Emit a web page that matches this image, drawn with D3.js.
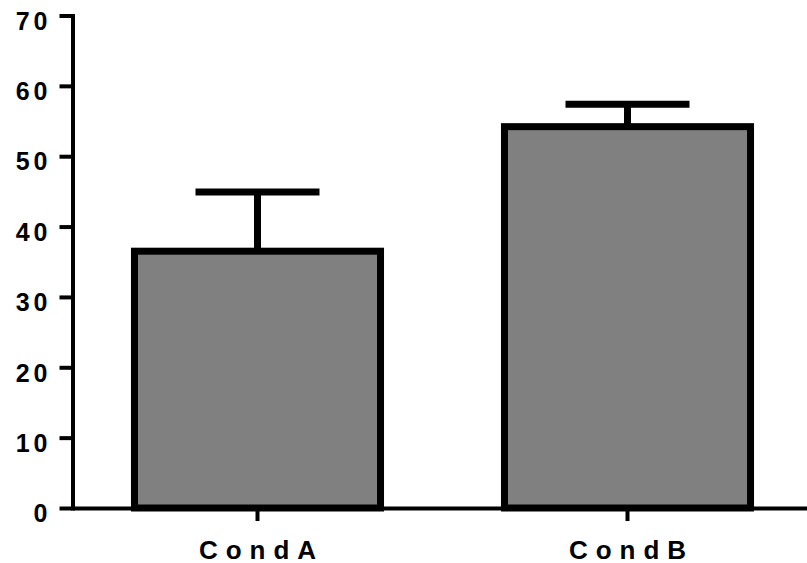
<!DOCTYPE html>
<html>
<head>
<meta charset="utf-8">
<script src="https://cdn.jsdelivr.net/npm/d3@7"></script>
<style>
  html, body { margin: 0; padding: 0; background: #fff; }
  svg { display: block; }
</style>
</head>
<body>
<svg id="chart" width="807" height="563"></svg>
<script>
// Group names, means and upper error (SD) values
const categories = ["CondA", "CondB"];
const means = [36.5, 54.2];
const errors = [8.4, 3.2];
const yTicks = [0, 10, 20, 30, 40, 50, 60, 70];

const svg = d3.select("#chart");

const y = d3.scaleLinear().domain([0, 70]).range([508, 15.5]);
const x = d3.scaleBand()
  .domain(categories)
  .range([72.5, 812.5])
  .paddingInner(0.335)
  .paddingOuter(0.1675);

const font = "'Liberation Sans', Arial, Helvetica, sans-serif";

// Bars
svg.append("g").selectAll("rect")
  .data(categories)
  .join("rect")
  .attr("x", d => x(d))
  .attr("width", x.bandwidth())
  .attr("y", (d, i) => y(means[i]))
  .attr("height", (d, i) => y(0) - y(means[i]))
  .attr("fill", "#808080")
  .attr("stroke", "#000")
  .attr("stroke-width", 7);

// Error bars (upper only)
const eb = svg.append("g").attr("stroke", "#000").attr("stroke-width", 7);
categories.forEach((c, i) => {
  const cx = x(c) + x.bandwidth() / 2;
  eb.append("line")
    .attr("x1", cx).attr("x2", cx)
    .attr("y1", y(means[i])).attr("y2", y(means[i] + errors[i]));
  eb.append("line")
    .attr("x1", cx - 62).attr("x2", cx + 62)
    .attr("y1", y(means[i] + errors[i])).attr("y2", y(means[i] + errors[i]));
});

// X axis
const xAxis = svg.append("g")
  .attr("transform", `translate(0,${y(0)})`)
  .call(d3.axisBottom(x).tickSize(13).tickSizeOuter(0).tickPadding(20));
xAxis.select(".domain").attr("stroke-width", 4);
xAxis.selectAll(".tick line").attr("stroke-width", 4);
xAxis.selectAll(".tick text")
  .attr("font-family", font)
  .attr("font-weight", "bold")
  .attr("font-size", 26)
  .attr("letter-spacing", "8px")
  .attr("dx", "4px")
  .attr("fill", "#000");

// Y axis
const yAxis = svg.append("g")
  .attr("transform", "translate(72.5,0)")
  .call(d3.axisLeft(y).tickValues(yTicks).tickFormat(d3.format("d"))
    .tickSize(13).tickSizeOuter(0).tickPadding(12));
yAxis.select(".domain").attr("stroke-width", 4).attr("stroke-linecap", "square");
yAxis.selectAll(".tick line").attr("stroke-width", 4);
yAxis.selectAll(".tick text")
  .attr("font-family", font)
  .attr("font-weight", "bold")
  .attr("font-size", 25)
  .attr("letter-spacing", "4px")
  .attr("dx", "4px")
  .attr("dy", "0.55em")
  .attr("fill", "#000");
</script>
</body>
</html>
